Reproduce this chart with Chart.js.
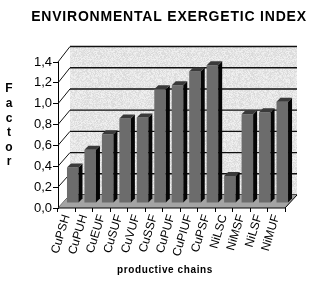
<!DOCTYPE html>
<html>
<head>
<meta charset="utf-8">
<script src="https://cdn.jsdelivr.net/npm/chart.js@4.4.0/dist/chart.umd.min.js"></script>
<style>
  html, body { margin: 0; padding: 0; background: #ffffff; }
  #wrap { width: 329px; height: 281px; position: relative; }
</style>
</head>
<body>
<div id="wrap"><canvas id="c" width="329" height="281"></canvas></div>
<script>
const chartTitle = 'ENVIRONMENTAL EXERGETIC INDEX';
const yTitleLetters = ['F', 'a', 'c', 't', 'o', 'r'];
const xTitle = 'productive chains';
const categories = ['CuPSH', 'CuPUH', 'CuEUF', 'CuSUF', 'CuVUF', 'CuSSF', 'CuPUF', 'CuPIUF', 'CuPSF', 'NiLSC', 'NiMSF', 'NiLSF', 'NiMUF'];
const factorValues = [0.34, 0.51, 0.66, 0.81, 0.82, 1.09, 1.13, 1.26, 1.32, 0.26, 0.85, 0.87, 0.97];
const yTickValues = [0, 0.2, 0.4, 0.6, 0.8, 1.0, 1.2, 1.4];
const yTickLabels = ['0,0', '0,2', '0,4', '0,6', '0,8', '1,0', '1,2', '1,4'];

const FONT = '"Liberation Sans", Arial, sans-serif';
const DEPTH_X = 12;       // back wall offset
const BAR_SHIFT = [6, -5]; // bars sit at mid-depth
const SIDE = 4;           // bar side/top depth

function makeTexture() {
  const c = document.createElement('canvas');
  c.width = 64; c.height = 64;
  const g = c.getContext('2d');
  const img = g.createImageData(64, 64);
  for (let i = 0; i < 64 * 64; i++) {
    const h = Math.abs(Math.sin(i * 12.9898 + 78.233) * 43758.5453) % 1;
    const v = Math.round(216 + h * 26);
    img.data[i * 4] = v; img.data[i * 4 + 1] = v; img.data[i * 4 + 2] = v; img.data[i * 4 + 3] = 255;
  }
  g.putImageData(img, 0, 0);
  return c;
}
const texture = makeTexture();

function backY(chart, v) {
  const y = chart.scales.y;
  const a = chart.chartArea;
  const fy = y.getPixelForValue(v);
  return fy - 13 - (a.bottom - fy) * 0.017;
}

const scene3d = {
  id: 'scene3d',
  beforeDatasetsDraw(chart) {
    const {ctx, chartArea: a} = chart;
    const bl = a.left + DEPTH_X, br = a.right + DEPTH_X;
    const top = backY(chart, 1.4), bot = backY(chart, 0);
    ctx.save();
    ctx.fillStyle = ctx.createPattern(texture, 'repeat');
    ctx.fillRect(bl, top, br - bl, bot - top);
    ctx.strokeStyle = '#111';
    yTickValues.forEach(v => {
      const by = backY(chart, v);
      const fy = chart.scales.y.getPixelForValue(v);
      ctx.lineWidth = 1.4;
      ctx.beginPath(); ctx.moveTo(bl, by); ctx.lineTo(br, by); ctx.stroke();
      ctx.lineWidth = 1;
      ctx.beginPath(); ctx.moveTo(a.left, fy); ctx.lineTo(bl, by); ctx.stroke();
    });
    ctx.fillStyle = '#a4a4a4';
    ctx.beginPath();
    ctx.moveTo(a.left, a.bottom);
    ctx.lineTo(a.right, a.bottom);
    ctx.lineTo(br, bot);
    ctx.lineTo(bl, bot);
    ctx.closePath();
    ctx.fill();
    ctx.strokeStyle = '#000';
    ctx.lineWidth = 1;
    ctx.beginPath();
    ctx.moveTo(a.left, a.bottom);
    ctx.lineTo(a.right, a.bottom);
    ctx.lineTo(br, bot);
    ctx.stroke();
    ctx.restore();
    ctx.save();
    ctx.translate(BAR_SHIFT[0], BAR_SHIFT[1]);
  },
  afterDatasetsDraw(chart) {
    const {ctx} = chart;
    const meta = chart.getDatasetMeta(0);
    meta.data.forEach(el => {
      const {x, y, base, width} = el.getProps(['x', 'y', 'base', 'width'], true);
      const l = x - width / 2, r = x + width / 2;
      ctx.fillStyle = '#050505';
      ctx.beginPath();
      ctx.moveTo(r, y); ctx.lineTo(r + SIDE, y - SIDE); ctx.lineTo(r + SIDE, base - SIDE); ctx.lineTo(r, base);
      ctx.closePath(); ctx.fill();
      ctx.fillStyle = '#3a3a3a';
      ctx.beginPath();
      ctx.moveTo(l, y); ctx.lineTo(l + SIDE, y - SIDE); ctx.lineTo(r + SIDE, y - SIDE); ctx.lineTo(r, y);
      ctx.closePath(); ctx.fill();
    });
    ctx.restore();
  },
  afterDraw(chart) {
    const {ctx} = chart;
    ctx.save();
    ctx.fillStyle = '#000';
    ctx.textAlign = 'center';
    ctx.textBaseline = 'middle';
    ctx.font = 'bold 14px ' + FONT;
    ctx.letterSpacing = '0.8px';
    ctx.fillText(chartTitle, 169, 17);
    ctx.letterSpacing = '0px';
    ctx.font = 'bold 12px ' + FONT;
    yTitleLetters.forEach((ch, i) => ctx.fillText(ch, 9, 89 + i * 14.6));
    ctx.font = 'bold 10px ' + FONT;
    ctx.letterSpacing = '0.6px';
    ctx.fillText(xTitle, 165, 270);
    ctx.restore();
  }
};

new Chart(document.getElementById('c'), {
  type: 'bar',
  data: {
    labels: categories,
    datasets: [{
      data: factorValues,
      backgroundColor: '#6c6c6c',
      borderWidth: 0,
      categoryPercentage: 1,
      barPercentage: 0.66,
      clip: false
    }]
  },
  options: {
    responsive: false,
    animation: false,
    events: [],
    layout: { padding: { top: 62, right: 44, bottom: 0, left: 0 } },
    plugins: { legend: { display: false }, title: { display: false }, tooltip: { enabled: false } },
    scales: {
      x: {
        offset: true,
        afterFit(s) { s.height = 73; },
        grid: { display: true, drawOnChartArea: false, drawTicks: true, tickLength: 4, color: '#000', offset: true },
        border: { display: false },
        ticks: {
          color: '#000', font: { family: FONT, size: 12 },
          minRotation: 73, maxRotation: 73, padding: 1, autoSkip: false
        }
      },
      y: {
        min: 0, max: 1.4,
        afterFit(s) { s.width = 58; },
        afterBuildTicks(s) { s.ticks = yTickValues.map(v => ({ value: v })); },
        grid: { display: true, drawOnChartArea: false, drawTicks: true, tickLength: 5, color: '#000' },
        border: { display: true, color: '#000', width: 1 },
        ticks: {
          color: '#000', font: { family: FONT, size: 13 }, padding: 1,
          callback(v) { const i = yTickValues.findIndex(t => Math.abs(t - v) < 1e-9); return i >= 0 ? yTickLabels[i] : ''; }
        }
      }
    }
  },
  plugins: [scene3d]
});
</script>
</body>
</html>
